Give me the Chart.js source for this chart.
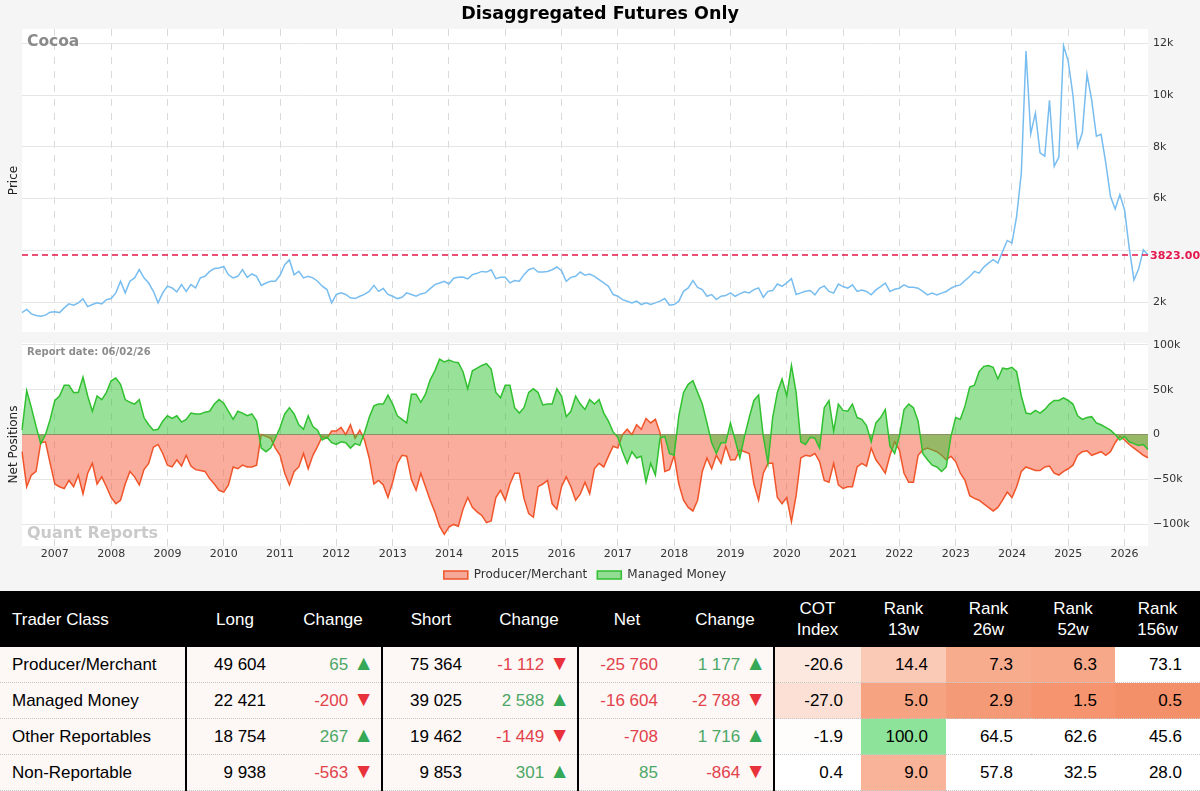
<!DOCTYPE html>
<html>
<head>
<meta charset="utf-8">
<title>Cocoa - Disaggregated Futures Only</title>
<script src="https://cdn.jsdelivr.net/npm/chart.js@4.4.1/dist/chart.umd.min.js"></script>
<style>
  html, body { margin: 0; padding: 0; background: #f5f5f5; }
  #page { position: relative; width: 1200px; height: 791px; overflow: hidden; background: #f5f5f5; }
  #priceChart { position: absolute; left: 0; top: 0; }
  #netChart { position: absolute; left: 0; top: 337px; }
  #cot { position: absolute; left: 0; top: 591px; width: 1200px; border-collapse: collapse; table-layout: fixed;
         font-family: 'Liberation Sans', Arial, sans-serif; font-size: 17px; color: #000; }
  #cot th { background: #000; color: #fff; font-weight: normal; height: 56px; padding: 0; line-height: 21px; text-align: center; }
  #cot th.cls { text-align: left; padding-left: 12px; }
  #cot td { height: 35px; padding: 0; text-align: right; border-bottom: 1px dotted #c8c8c8; background: #fdf7f6; white-space: nowrap; }
  #cot td.cls { text-align: left; padding-left: 12px; }
  #cot td.num { padding-right: 18px; }
  #cot td.chg { padding-right: 7px; }
  #cot td.sep { border-left: 2px solid #000; }
  #cot td.heat { background: #fff; padding-right: 18px; }
  .up { color: #4ca866; }
  .down { color: #e2424a; }
  .tri { font-size: 21px; margin-left: 5px; line-height: 17px; }
  .up .tri { color: #35a957; }
  .down .tri { color: #e8313a; }
</style>
</head>
<body>
<div id="page">
  <canvas id="priceChart" width="1200" height="337"></canvas>
  <canvas id="netChart" width="1200" height="254"></canvas>
  <table id="cot">
    <colgroup>
      <col style="width:186px"><col style="width:98px"><col style="width:98px"><col style="width:98px">
      <col style="width:98px"><col style="width:98px"><col style="width:98px"><col style="width:87px">
      <col style="width:85px"><col style="width:85px"><col style="width:84px"><col style="width:85px">
    </colgroup>
    <thead>
      <tr>
        <th class="cls">Trader Class</th><th>Long</th><th>Change</th><th>Short</th><th>Change</th>
        <th>Net</th><th>Change</th><th>COT<br>Index</th><th>Rank<br>13w</th><th>Rank<br>26w</th>
        <th>Rank<br>52w</th><th>Rank<br>156w</th>
      </tr>
    </thead>
    <tbody id="cotRows"></tbody>
  </table>
</div>
<script>
// ---- monthly samples, Jun 2006 .. Jun 2026 ----
const START_YEAR = 2006;
const START_MONTH = 6;

// Cocoa price
const PRICE = [
  1600, 1720, 1550, 1490, 1460, 1500, 1615,
  1630, 1600, 1780, 1935, 1885, 1975, 2130, 1830, 1910, 1975, 1935, 2100,
  2140, 2360, 2810, 2360, 2810, 2940, 3260, 2940, 2740, 2420, 1975, 2360,
  2620, 2550, 2400, 2680, 2420, 2680, 2550, 2940, 3000, 3190, 3300, 3320,
  3380, 3060, 2940, 3000, 3260, 2960, 3090, 3000, 2650, 2740, 2810, 2810,
  3040, 3450, 3640, 3060, 3190, 2940, 3000, 2940, 2810, 2620, 2490, 1975,
  2300, 2360, 2300, 2170, 2140, 2230, 2300, 2420, 2650, 2420, 2530, 2300,
  2230, 2140, 2190, 2360, 2300, 2230, 2320, 2360, 2525, 2680, 2745, 2810,
  2705, 2925, 2960, 2975, 2900, 3065, 3115, 3190, 3165, 3255, 2910, 2960,
  2960, 2745, 2835, 2810, 3065, 3255, 3320, 3165, 3165, 3190, 3255, 3360,
  3220, 2810, 2960, 3000, 3165, 3040, 3090, 3000, 2870, 2745, 2615, 2295,
  2230, 2100, 2040, 1975, 2040, 1910, 1975, 1910, 1975, 2040, 2140, 1885,
  1910, 2040, 2420, 2550, 2835, 2575, 2490, 2230, 2295, 2100, 2230, 2255,
  2360, 2230, 2320, 2400, 2360, 2485, 2550, 2190, 2420, 2450, 2705, 2615,
  2745, 2910, 2295, 2360, 2420, 2450, 2285, 2540, 2630, 2415, 2350, 2700,
  2605, 2540, 2670, 2415, 2475, 2415, 2285, 2475, 2605, 2735, 2415, 2505,
  2540, 2670, 2580, 2580, 2540, 2415, 2285, 2350, 2285, 2350, 2415, 2540,
  2630, 2670, 2840, 2995, 3190, 3120, 3355, 3510, 3640, 3510, 3960, 4385,
  4285, 5315, 6990, 11700, 8500, 9300, 7770, 7640, 9800, 7250, 7600, 11900,
  11300, 10000, 8000, 8540, 10800, 9800, 8410, 8480, 7380, 6090, 5600, 6150,
  5570, 4090, 2860, 3280, 4025, 3823
];

// net positions, thousands of contracts
const PRODUCER_NET = [
  -19, -58, -45, -41, -9, -8, -32,
  -55, -58, -60, -51, -58, -45, -66, -43, -32, -55, -47, -58,
  -70, -77, -73, -55, -41, -47, -56, -39, -32, -14, -11, -21,
  -34, -36, -28, -35, -23, -35, -39, -40, -41, -49, -55, -62,
  -64, -56, -36, -38, -34, -36, -36, -34, 0, -2, -4, -15,
  -23, -43, -56, -41, -36, -21, -38, -23, -13, -2, -4, 4,
  4, 8, 0, 11, -4, 5, -6, -26, -55, -51, -56, -70,
  -53, -32, -23, -24, -50, -62, -43, -58, -73, -86, -102, -111,
  -103, -100, -102, -83, -70, -81, -86, -90, -98, -96, -70, -62,
  -73, -55, -43, -43, -71, -88, -92, -58, -55, -51, -77, -83,
  -58, -47, -58, -73, -66, -53, -66, -38, -32, -36, -24, -13,
  -15, 0, 6, 0, 11, 6, 18, 13, 17, 2, -41, -39,
  -23, -55, -73, -81, -85, -73, -41, -26, -38, -23, -32, -13,
  -28, -28, -17, -19, -21, -55, -73, -43, -32, -32, -70, -77,
  -70, -97, -68, -26, -23, -24, -21, -30, -51, -53, -32, -56,
  -60, -58, -58, -36, -32, -35, -15, -28, -35, -43, -23, -8,
  -17, -43, -53, -53, -23, -17, -15, -17, -19, -23, -28, -24,
  -30, -43, -51, -68, -71, -73, -77, -81, -85, -81, -73, -64,
  -70, -58, -41, -36, -38, -40, -40, -36, -35, -43, -45, -41,
  -38, -34, -23, -19, -18, -23, -21, -19, -23, -19, -9, -2,
  -6, -11, -15, -19, -23, -25.76
];

const MANAGED_NET = [
  5, 49, 30, 9, -10, 0, 17,
  38, 43, 55, 55, 47, 47, 64, 43, 26, 43, 39, 47,
  60, 63, 56, 39, 36, 34, 39, 19, 11, 5, 6, 15,
  21, 18, 21, 14, 17, 24, 23, 23, 25, 26, 34, 39,
  35, 26, 17, 26, 24, 21, 23, 15, -15, -19, -15, -4,
  8, 23, 30, 23, 11, 6, 21, 9, 5, -6, -3, -9,
  -11, -8, -9, -15, -10, -12, 2, 19, 32, 34, 34, 44,
  34, 21, 17, 13, 45, 45, 36, 45, 61, 71, 84, 81,
  83, 81, 80, 70, 51, 71, 74, 77, 79, 73, 47, 41,
  55, 55, 30, 24, 30, 47, 51, 47, 33, 34, 34, 51,
  43, 20, 26, 43, 34, 28, 39, 34, 39, 24, 15, 3,
  -3, -19, -32, -19, -26, -24, -53, -32, -45, -4, -2, -21,
  -23, 21, 47, 56, 60, 47, 34, 13, -9, -21, -9, -9,
  13, -6, -26, -2, 19, 38, 44, -2, -32, 19, 47, 62,
  43, 77, 47, -8, -11, -3, -4, -15, 30, 38, 4, 34,
  27, 26, 34, 19, 17, 10, -8, 13, 19, 28, -13, -21,
  -2, 28, 34, 30, 15, -21, -28, -34, -36, -41, -36, -2,
  19, 17, 32, 53, 55, 70, 76, 77, 75, 62, 74, 73,
  75, 70, 43, 24, 23, 27, 24, 28, 34, 38, 38, 41,
  38, 34, 21, 17, 19, 20, 13, 11, 8, 5, 0, -6,
  -2, -8, -10, -12, -11, -16.6
];

const PRICE_TICKS = [2000, 4000, 6000, 8000, 10000, 12000];
const NET_TICKS = [-100000, -50000, 0, 50000, 100000];
const LAST_PRICE = 3823;
const REPORT_DATE = '06/02/26';

// ---- table data ----
const TRADER_CLASSES = ['Producer/Merchant', 'Managed Money', 'Other Reportables', 'Non-Reportable'];
const LONG = [49604, 22421, 18754, 9938];
const LONG_CHG = [65, -200, 267, -563];
const SHORT = [75364, 39025, 19462, 9853];
const SHORT_CHG = [-1112, 2588, -1449, 301];
const NET = [-25760, -16604, -708, 85];
const NET_CHG = [1177, -2788, 1716, -864];
const COT_INDEX = [-20.6, -27.0, -1.9, 0.4];
const RANK_13W = [14.4, 5.0, 100.0, 9.0];
const RANK_26W = [7.3, 2.9, 64.5, 57.8];
const RANK_52W = [6.3, 1.5, 62.6, 32.5];
const RANK_156W = [73.1, 0.5, 45.6, 28.0];

const MONTHS = PRICE.map((_, i) => {
  const m = START_MONTH - 1 + i;
  return (START_YEAR + Math.floor(m / 12)) + '-' + String(m % 12 + 1).padStart(2, '0');
});

Chart.defaults.font.family = "'DejaVu Sans', sans-serif";
Chart.defaults.color = '#333';

// white plot area, notes and the last price marker
const panelPlugin = {
  id: 'panel',
  beforeDraw(chart) {
    const { ctx, chartArea: a } = chart;
    ctx.save();
    ctx.fillStyle = '#ffffff';
    ctx.fillRect(a.left, a.top, a.right - a.left, a.bottom - a.top);
    ctx.restore();
  },
  afterDatasetsDraw(chart, args, opts) {
    const { ctx, chartArea: a } = chart;
    ctx.save();
    if (opts.refValue != null) {
      const y = chart.scales.y.getPixelForValue(opts.refValue);
      ctx.strokeStyle = '#e3174b';
      ctx.lineWidth = 1.5;
      ctx.setLineDash([6, 4]);
      ctx.beginPath();
      ctx.moveTo(a.left, y);
      ctx.lineTo(a.right, y);
      ctx.stroke();
      ctx.setLineDash([]);
      ctx.fillStyle = '#e3174b';
      ctx.font = "bold 11px 'DejaVu Sans'";
      ctx.textAlign = 'left';
      ctx.textBaseline = 'middle';
      ctx.fillText(opts.refValue.toFixed(2), a.right + 2, y + 1);
    }
    (opts.notes || []).forEach(n => {
      ctx.font = n.font;
      ctx.fillStyle = n.color;
      ctx.textAlign = 'left';
      ctx.textBaseline = 'middle';
      ctx.fillText(n.text, a.left + 5, a.top + n.dy);
    });
    ctx.restore();
  }
};

// vertical axes must not push the plot area in for their label overhang
const noOverhang = scale => { scale.paddingTop = 0; scale.paddingBottom = 0; };

function yearAxis(showLabels) {
  return {
    type: 'category',
    offset: false,
    afterBuildTicks: scale => {
      scale.ticks = scale.ticks.filter(t => MONTHS[t.value].endsWith('-01'));
    },
    afterFit: scale => { scale.height = showLabels ? 13 : 0; },
    grid: { color: '#dadada', drawTicks: false, offset: false },
    border: { display: false, dash: [7, 7] },
    ticks: {
      display: showLabels,
      autoSkip: false,
      maxRotation: 0,
      padding: 2,
      color: '#333',
      font: { size: 11 },
      callback: value => MONTHS[value].slice(0, 4)
    }
  };
}

function titleAxis(text) {
  return {
    type: 'linear',
    position: 'left',
    grid: { display: false, drawTicks: false },
    border: { display: false },
    ticks: { display: false },
    title: { display: true, text: text, color: '#222', font: { size: 12 }, padding: { top: 7, bottom: 0 } },
    afterFit: scale => { scale.width = 22; noOverhang(scale); }
  };
}

function valueAxis(min, max, tickValues, format, gridColor) {
  return {
    type: 'linear',
    position: 'right',
    min: min,
    max: max,
    afterBuildTicks: scale => { scale.ticks = tickValues.map(v => ({ value: v })); },
    afterFit: scale => { scale.width = 52; noOverhang(scale); },
    grid: { color: gridColor, drawTicks: false },
    border: { display: false },
    ticks: { color: '#333', font: { size: 11 }, padding: 5, callback: format }
  };
}

const kLabel = v => (v < 0 ? '\u2212' : '') + Math.abs(v / 1000) + (v === 0 ? '' : 'k');

new Chart(document.getElementById('priceChart'), {
  type: 'line',
  data: {
    labels: MONTHS,
    datasets: [{
      label: 'Price',
      data: PRICE,
      yAxisID: 'y',
      borderColor: '#78bdf0',
      borderWidth: 1.5,
      pointRadius: 0,
      fill: false,
      tension: 0
    }]
  },
  options: {
    responsive: false,
    animation: false,
    events: [],
    layout: { padding: { top: 0, right: 0, bottom: 5, left: 0 } },
    scales: {
      x: yearAxis(false),
      yt: titleAxis('Price'),
      y: valueAxis(850, 12550, PRICE_TICKS, v => (v === 4000 ? '' : kLabel(v)), '#e6e6e6')
    },
    plugins: {
      legend: { display: false },
      tooltip: { enabled: false },
      title: {
        display: true,
        text: 'Disaggregated Futures Only',
        color: '#000',
        font: { size: 17.5, weight: 'bold' },
        padding: { top: 4, bottom: 4 }
      },
      panel: {
        refValue: LAST_PRICE,
        notes: [{ text: 'Cocoa', font: "bold 15.5px 'DejaVu Sans'", color: '#8a8a8a', dy: 13 }]
      }
    }
  },
  plugins: [panelPlugin]
});

new Chart(document.getElementById('netChart'), {
  type: 'line',
  data: {
    labels: MONTHS,
    datasets: [
      {
        label: 'Producer/Merchant',
        data: PRODUCER_NET.map(v => v * 1000),
        yAxisID: 'y',
        borderColor: '#f0552a',
        backgroundColor: 'rgba(245, 90, 60, 0.5)',
        borderWidth: 1.5,
        pointRadius: 0,
        fill: 'origin',
        tension: 0,
        order: 2
      },
      {
        label: 'Managed Money',
        data: MANAGED_NET.map(v => v * 1000),
        yAxisID: 'y',
        borderColor: '#30c030',
        backgroundColor: 'rgba(50, 195, 50, 0.5)',
        borderWidth: 1.5,
        pointRadius: 0,
        fill: 'origin',
        tension: 0,
        order: 1
      }
    ]
  },
  options: {
    responsive: false,
    animation: false,
    events: [],
    layout: { padding: { top: 6, right: 0, bottom: 0, left: 0 } },
    scales: {
      x: yearAxis(true),
      yt: titleAxis('Net Positions'),
      y: valueAxis(-124000, 102000, NET_TICKS, kLabel, ctx => (ctx.tick && ctx.tick.value === 0 ? '#8f8f8f' : '#e6e6e6'))
    },
    plugins: {
      tooltip: { enabled: false },
      legend: {
        display: true,
        position: 'bottom',
        fullSize: false,
        labels: {
          boxWidth: 24,
          boxHeight: 8,
          padding: 10,
          color: '#333',
          font: { size: 12 },
          sort: (a, b) => a.datasetIndex - b.datasetIndex
        }
      },
      panel: {
        notes: [
          { text: 'Report date: ' + REPORT_DATE, font: "bold 10px 'DejaVu Sans'", color: '#8c8c8c', dy: 9 },
          { text: 'Quant Reports', font: "bold 16px 'DejaVu Sans'", color: '#cacaca', dy: 191 }
        ]
      }
    }
  },
  plugins: [panelPlugin]
});

// ---- table ----
function fmtInt(n) {
  const s = String(Math.abs(n)).replace(/\B(?=(\d{3})+(?!\d))/g, ' ');
  return (n < 0 ? '-' : '') + s;
}

function mix(c1, c2, t) {
  const r = Math.round(c1[0] + (c2[0] - c1[0]) * t);
  const g = Math.round(c1[1] + (c2[1] - c1[1]) * t);
  const b = Math.round(c1[2] + (c2[2] - c1[2]) * t);
  return 'rgb(' + r + ',' + g + ',' + b + ')';
}

const WHITE = [255, 255, 255];
const SALMON = [244, 142, 102];
const SALMON_LIGHT = [251, 204, 185];
const GREEN = [142, 227, 155];

function rankColor(v) {
  if (v >= 90) return mix(WHITE, GREEN, 1);
  if (v <= 15) return mix(SALMON, SALMON_LIGHT, v / 15);
  return '#ffffff';
}

function cotColor(v) {
  return v < 0 ? mix(WHITE, SALMON, Math.min(1, -v / 100)) : mix(WHITE, GREEN, Math.min(1, v / 100));
}

function changeCell(v) {
  const cls = v >= 0 ? 'up' : 'down';
  const tri = v >= 0 ? '\u25B2' : '\u25BC';
  return '<td class="chg ' + cls + '">' + fmtInt(v) + '<span class="tri">' + tri + '</span></td>';
}

const rowsHtml = TRADER_CLASSES.map((name, i) => {
  const netCls = NET[i] >= 0 ? 'up' : 'down';
  const heat = (v, color) => '<td class="heat" style="background:' + color + '">' + v.toFixed(1) + '</td>';
  return '<tr>' +
    '<td class="cls">' + name + '</td>' +
    '<td class="num sep">' + fmtInt(LONG[i]) + '</td>' +
    changeCell(LONG_CHG[i]) +
    '<td class="num sep">' + fmtInt(SHORT[i]) + '</td>' +
    changeCell(SHORT_CHG[i]) +
    '<td class="num sep ' + netCls + '">' + fmtInt(NET[i]) + '</td>' +
    changeCell(NET_CHG[i]) +
    '<td class="heat sep" style="background:' + cotColor(COT_INDEX[i]) + '">' + COT_INDEX[i].toFixed(1) + '</td>' +
    heat(RANK_13W[i], rankColor(RANK_13W[i])) +
    heat(RANK_26W[i], rankColor(RANK_26W[i])) +
    heat(RANK_52W[i], rankColor(RANK_52W[i])) +
    heat(RANK_156W[i], rankColor(RANK_156W[i])) +
    '</tr>';
}).join('');

document.getElementById('cotRows').innerHTML = rowsHtml;
</script>
</body>
</html>
